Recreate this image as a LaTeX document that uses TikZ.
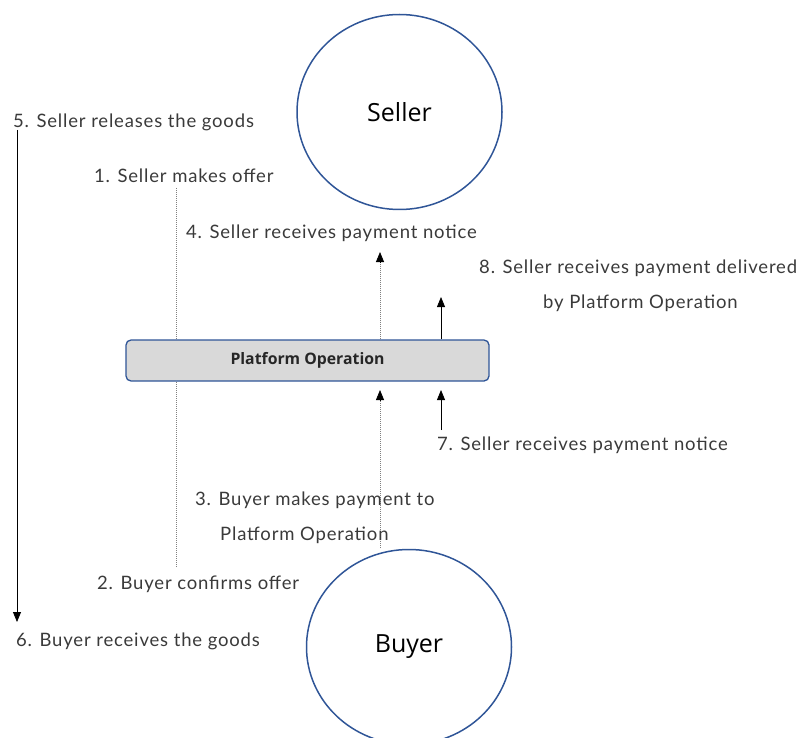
\documentclass[tikz,border=0pt]{standalone}
\usepackage{fontspec}
\setmainfont{Lato}[LetterSpace=4.5]
\newfontfamily\circfont{Open Sans}
\usetikzlibrary{arrows.meta,shapes.geometric}
\definecolor{edgeblue}{HTML}{2F5597}
\definecolor{labelgray}{HTML}{3A3A3A}
\definecolor{boxgray}{HTML}{D9D9D9}
\tikzset{
  party/.style={ellipse, draw=edgeblue, line width=1.5pt, minimum width=205pt, minimum height=195pt, font=\circfont\fontsize{25}{28}\selectfont, text=black},
  step label/.style={anchor=west, inner sep=0pt, text=labelgray, font=\fontsize{18.5}{21}\selectfont},
  platform/.style={draw=edgeblue, line width=1.3pt, fill=boxgray, rounded corners=5pt, minimum width=363pt, minimum height=41pt, font=\circfont\bfseries\fontsize{15.8}{18}\selectfont, text=black!85},
  dotline/.style={draw=gray, line width=0.7pt, dash pattern=on 1pt off 1pt},
  tip/.style={-{Triangle[length=10pt,width=8pt]}},
  solidline/.style={draw=black, line width=0.8pt}
}
\begin{document}
\begin{tikzpicture}[x=1pt,y=-1pt]
\useasboundingbox (0,0) rectangle (803,738);
\begin{scope}
\clip (0,0) rectangle (803,738);
% parties
\node[party] (seller) at (399.5,112) {Seller};
\node[party] (buyer) at (409,647) {Buyer};

% connector ends
\coordinate (offerTop) at (176,188);
\coordinate (offerBot) at (176,567);
\coordinate (payTop) at (380,252);
\coordinate (payTopBase) at (380,262);
\coordinate (payBot) at (380,548);
\coordinate (payIn) at (380,390);
\coordinate (payInBase) at (380,400);
\coordinate (delTop) at (441,297);
\coordinate (noteBot) at (441,430);
\coordinate (noteIn) at (441,390);
\coordinate (goodsTop) at (17,130);
\coordinate (goodsBot) at (17,622);

% offer line (behind the platform box)
\draw[dotline] (offerTop) -- (offerBot);

% platform box
\node[platform] (plat) at (307.5,360.5) {Platform Operation};

% payment notice to seller (dotted shaft, solid head)
\draw[dotline] (plat.north -| payTop) -- (payTopBase);
\draw[solidline, tip] (payTopBase) -- (payTop);
% payment into platform
\draw[dotline] (payBot) -- (payInBase);
\draw[solidline, tip] (payInBase) -- (payIn);
% payment delivered to seller
\draw[solidline, tip] (plat.north -| delTop) -- (delTop);
% notice into platform
\draw[solidline, tip] (noteBot) -- (noteIn);
% goods released to buyer
\draw[solidline, tip] (goodsTop) -- (goodsBot);
\end{scope}

% step labels
\node[step label] (s5) at (13,122) {5. Seller releases the goods};
\node[step label] (s1) at (94,176) {1. Seller makes offer};
\node[step label] (s4) at (186,233) {4. Seller receives payment notice};
\node[step label] (s8a) at (479,268) {8. Seller receives payment delivered};
\node[step label] (s8b) at (543,303) {by Platform Operation};
\node[step label] (s7) at (437,445) {7. Seller receives payment notice};
\node[step label] (s3a) at (195,500) {3. Buyer makes payment to};
\node[step label] (s3b) at (220,535) {Platform Operation};
\node[step label] (s2) at (97,584) {2. Buyer confirms offer};
\node[step label] (s6) at (16,641) {6. Buyer receives the goods};
\end{tikzpicture}
\end{document}
